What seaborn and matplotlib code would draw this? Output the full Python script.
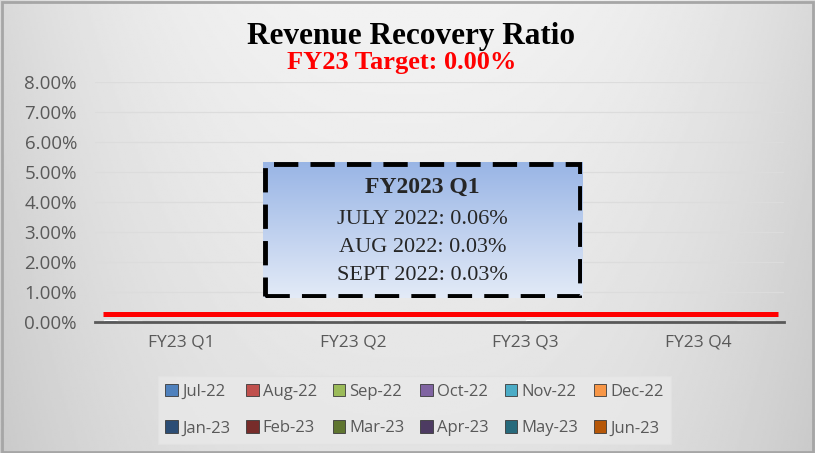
import numpy as np
import pandas as pd
import matplotlib
matplotlib.use("Agg")
import matplotlib.pyplot as plt
from matplotlib.patches import Rectangle
import seaborn as sns

# data
quarters = ["FY23 Q1", "FY23 Q2", "FY23 Q3", "FY23 Q4"]
months = ["Jul-22", "Aug-22", "Sep-22", "Oct-22", "Nov-22", "Dec-22",
          "Jan-23", "Feb-23", "Mar-23", "Apr-23", "May-23", "Jun-23"]
month_quarter = ["FY23 Q1"] * 3 + ["FY23 Q2"] * 3 + ["FY23 Q3"] * 3 + ["FY23 Q4"] * 3
ratio_pct = [0.06, 0.03, 0.03, 0.05, 0.04, 0.05, 0.06, 0.05, 0.04, 0.04, 0.05, 0.03]
target_line = 0.27
colors = ["#4F81BD", "#C0504D", "#9BBB59", "#8064A2", "#4BACC6", "#F79646",
          "#2C4D75", "#772C2A", "#5F7530", "#4D3B62", "#276A7C", "#B65708"]
box_title = "FY2023 Q1"
box_lines = ["JULY 2022: 0.06%", "AUG 2022: 0.03%", "SEPT 2022: 0.03%"]

df = pd.DataFrame({"quarter": month_quarter, "month": months, "ratio": ratio_pct})

sns.set_theme(style="white")
plt.rcParams["font.family"] = ["Open Sans", "DejaVu Sans"]

fig = plt.figure(figsize=(8.15, 4.53), dpi=100)

# background gradient
bg = fig.add_axes([0, 0, 1, 1], zorder=-10)
xx, yy = np.meshgrid(np.linspace(-1, 1, 400), np.linspace(0, 1, 220))
shade = 0.95 - 0.10 * np.abs(xx) ** 2.5 - 0.06 * yy
bg.imshow(shade, cmap="gray", vmin=0, vmax=1, aspect="auto", extent=[0, 1, 0, 1])
bg.add_patch(Rectangle((0.002, 0.003), 0.995, 0.993, fill=False, ec="#a6a6a6", lw=2,
                       transform=bg.transAxes))
bg.set_axis_off()

ax = fig.add_axes([0.1166, 0.289, 0.8454, 0.530])
ax.patch.set_alpha(0)
sns.barplot(data=df, x="quarter", y="ratio", hue="month", order=quarters,
            hue_order=months, palette=colors, dodge=True, width=0.9,
            errorbar=None, ax=ax, legend=True, saturation=1)

ax.set_ylim(0, 8)
ax.set_xlim(-0.5, 3.5)
ax.set_yticks(range(0, 9))
ax.set_yticklabels([f"{v:.2f}%" for v in range(0, 9)], fontsize=13.5, color="#595959")
ax.set_xticklabels(quarters, fontsize=12.5, color="#595959")
ax.set_xlabel("")
ax.set_ylabel("")
ax.yaxis.grid(True, color="#dcdcdc", lw=0.9)
ax.set_axisbelow(True)
for s in ["top", "right", "left"]:
    ax.spines[s].set_visible(False)
ax.spines["bottom"].set_color("#595959")
ax.spines["bottom"].set_linewidth(2)
ax.tick_params(axis="x", length=0, pad=9)
ax.tick_params(axis="y", length=0, pad=13)
ax.set_xticks([-0.5, 0.5, 1.5, 2.5, 3.5], minor=True)
ax.tick_params(axis="x", which="minor", length=5, width=2, color="#595959", direction="out")

ax.axhline(target_line, xmin=0.012, xmax=0.991, color="red", lw=3.6, zorder=5,
           solid_capstyle="butt")

# legend filled row by row
handles, labels = ax.get_legend_handles_labels()
order = [r * 6 + c for c in range(6) for r in range(2)]
leg = ax.legend([handles[i] for i in order], [labels[i] for i in order],
                loc="upper center", bbox_to_anchor=(0.464, -0.19), ncol=6,
                frameon=True, fontsize=12, handlelength=0.75, handleheight=0.75,
                handletextpad=0.25, columnspacing=0.95, labelspacing=1.25,
                borderpad=0.45, facecolor="#e9e9e9", edgecolor="#e2e2e2", fancybox=False)
for t in leg.get_texts():
    t.set_color("#595959")
for h in leg.legend_handles:
    h.set_edgecolor("#3a3a3a")
    h.set_linewidth(0.6)

# titles
fig.text(0.504, 0.92, "Revenue Recovery Ratio", ha="center", va="center",
         fontsize=22.5, fontweight="bold", family="Liberation Serif", color="black")
fig.text(0.493, 0.862, "FY23 Target: 0.00%", ha="center", va="center",
         fontsize=19, fontweight="bold", family="Liberation Serif", color="#ff0000")

# annotation box with gradient
bx0, by0, bw, bh = 263 / 815, 1 - 298 / 453, 319 / 815, 136 / 453
box = fig.add_axes([bx0, by0, bw, bh], zorder=6)
grad = np.linspace(0, 1, 100).reshape(-1, 1)
top = np.array([0.60, 0.71, 0.90])
bot = np.array([0.89, 0.92, 0.97])
img = bot + (top - bot) * grad[:, :, None] * np.ones((1, 2, 1))
box.imshow(img, aspect="auto", extent=[0, 1, 0, 1], origin="lower")
box.add_patch(Rectangle((0.006, 0.012), 0.988, 0.976, fill=False, ec="black", lw=3.5,
                        ls=(0, (5, 2.5)), transform=box.transAxes))
box.set_axis_off()
box.text(0.5, 0.81, box_title, ha="center", va="center", fontsize=17,
         fontweight="bold", family="Liberation Serif")
for i, line in enumerate(box_lines):
    box.text(0.5, 0.574 - i * 0.203, line, ha="center", va="center", fontsize=16,
             family="Liberation Serif")

fig.savefig("out.png", dpi=100)
